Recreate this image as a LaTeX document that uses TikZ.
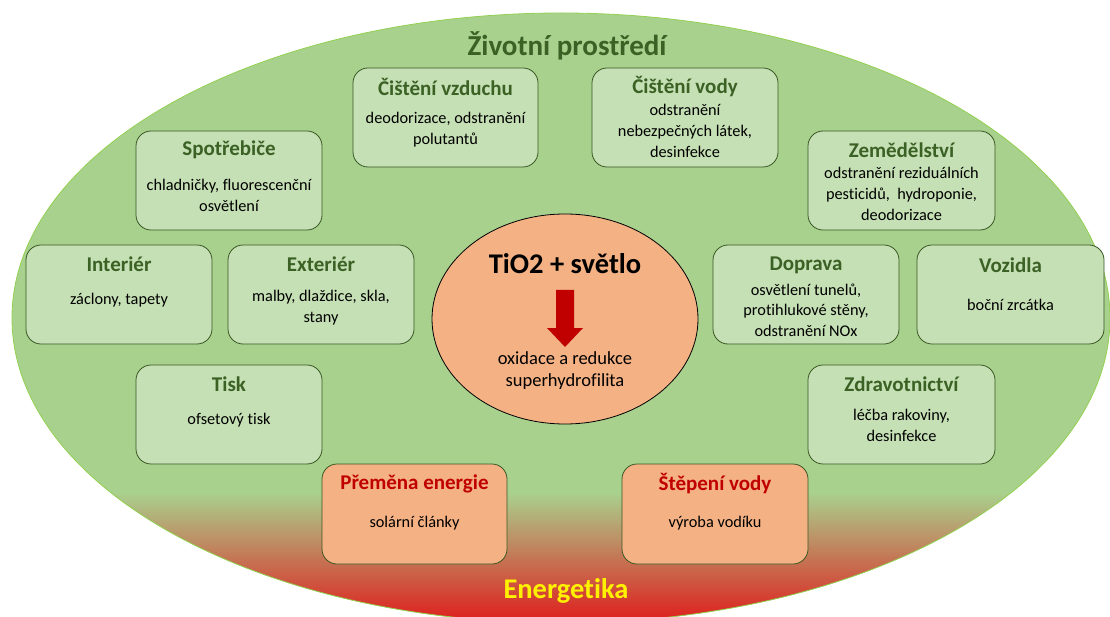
\documentclass[tikz,border=0pt]{standalone}
\usepackage{fontspec}
\setmainfont{Carlito}[Ligatures=NoCommon]
\usetikzlibrary{shapes.geometric}

\definecolor{leaf}{HTML}{A9D18E}
\definecolor{leafedge}{HTML}{92D050}
\definecolor{boxfill}{HTML}{C5E0B4}
\definecolor{boxedge}{HTML}{385723}
\definecolor{titlegreen}{HTML}{3B6125}
\definecolor{peach}{HTML}{F4B183}
\definecolor{darkred}{HTML}{C00000}
\definecolor{hotred}{HTML}{E01B1B}

\tikzset{
  area/.style={draw=boxedge, line width=0.8pt, fill=boxfill, rounded corners=15pt, inner sep=0pt},
  energybox/.style={area, fill=peach},
  boxtitle/.style={font=\fontsize{21}{24}\selectfont\bfseries, text=titlegreen, inner sep=0pt},
  energytitle/.style={font=\fontsize{21}{24}\selectfont\bfseries, text=darkred, inner sep=0pt},
  boxtext/.style={font=\fontsize{16.3}{20.7}\selectfont, align=center, inner sep=0pt},
}

\begin{document}
\begin{tikzpicture}[x=1pt, y=-1pt]
\useasboundingbox (0,0) rectangle (1110,617);

% outer field with the energy band fading into red at the bottom
\begin{scope}
  \clip (561,318) ellipse [x radius=549, y radius=305];
  \fill[leaf] (0,0) rectangle (1120,630);
  \shade[top color=leaf, bottom color=hotred] (0,492) rectangle (1120,624);
\end{scope}
\draw[leafedge, line width=0.8pt] (561,318) ellipse [x radius=549, y radius=305];

\node[font=\fontsize{29}{34}\selectfont\bfseries, text=titlegreen, inner sep=0pt] (env) at (567,46) {Životní prostředí};
\node[font=\fontsize{28.5}{34}\selectfont\bfseries, text=yellow, inner sep=0pt] (energy) at (566,591) {Energetika};

% application boxes
\node[area, minimum width=185pt, minimum height=99pt] (air) at (445.5,117.5) {};
\node[boxtitle] (air-t) at (445.5,87) {Čištění vzduchu};
\node[boxtext] (air-b) at (445.5,129.5) {deodorizace, odstranění\\polutantů};

\node[area, minimum width=186pt, minimum height=99pt] (water) at (685,117.5) {};
\node[boxtitle] (water-t) at (685,87) {Čištění vody};
\node[boxtext] (water-b) at (685,131) {odstranění\\nebezpečných látek,\\desinfekce};

\node[area, minimum width=186pt, minimum height=99pt] (appl) at (229,180.5) {};
\node[boxtitle] (appl-t) at (229,150) {Spotřebiče};
\node[boxtext] (appl-b) at (229,195.5) {chladničky, fluorescenční\\osvětlení};

\node[area, minimum width=187pt, minimum height=99pt] (agri) at (901.5,180.5) {};
\node[boxtitle] (agri-t) at (901.5,150) {Zemědělství};
\node[boxtext] (agri-b) at (901.5,194) {odstranění reziduálních\\pesticidů,\ \ hydroponie,\\deodorizace};

\node[area, minimum width=186pt, minimum height=99pt] (inter) at (119,294.5) {};
\node[boxtitle] (inter-t) at (119,264) {Interiér};
\node[boxtext] (inter-b) at (119,300) {záclony, tapety};

\node[area, minimum width=186pt, minimum height=99pt] (exter) at (321,294.5) {};
\node[boxtitle] (exter-t) at (321,264) {Exteriér};
\node[boxtext] (exter-b) at (321,307.5) {malby, dlaždice, skla,\\stany};

\node[area, minimum width=186pt, minimum height=99pt] (trans) at (806,294.5) {};
\node[boxtitle] (trans-t) at (806,265) {Doprava};
\node[boxtext] (trans-b) at (806,310) {osvětlení tunelů,\\protihlukové stěny,\\odstranění NOx};

\node[area, minimum width=187pt, minimum height=99pt] (cars) at (1010.5,294.5) {};
\node[boxtitle] (cars-t) at (1010.5,265) {Vozidla};
\node[boxtext] (cars-b) at (1010.5,305) {boční zrcátka};

\node[area, minimum width=186pt, minimum height=99pt] (print) at (229,414.5) {};
\node[boxtitle] (print-t) at (229,384) {Tisk};
\node[boxtext] (print-b) at (229,420) {ofsetový tisk};

\node[area, minimum width=187pt, minimum height=99pt] (health) at (901.5,414.5) {};
\node[boxtitle] (health-t) at (901.5,384) {Zdravotnictví};
\node[boxtext] (health-b) at (901.5,425.5) {léčba rakoviny,\\desinfekce};

\node[energybox, minimum width=185pt, minimum height=100pt] (conv) at (414.5,514) {};
\node[energytitle] (conv-t) at (414.5,484) {Přeměna energie};
\node[boxtext] (conv-b) at (414.5,523) {solární články};

\node[energybox, minimum width=186pt, minimum height=100pt] (split) at (715,514) {};
\node[energytitle] (split-t) at (715,484) {Štěpení vody};
\node[boxtext] (split-b) at (715,523) {výroba vodíku};

% photocatalysis core
\node[ellipse, draw=black, line width=0.8pt, fill=peach, minimum width=266pt, minimum height=210pt, inner sep=0pt] (core) at (565,319) {};
\node[font=\fontsize{28.5}{34}\selectfont\bfseries, inner sep=0pt] (core-t) at (565,264) {TiO2 + světlo};
\fill[darkred] (556,290) -- (574,290) -- (574,328) -- (583,328) -- (565,347) -- (547,328) -- (556,328) -- cycle;
\node[boxtext, font=\fontsize{18.5}{22}\selectfont] (core-b) at (565,371) {oxidace a redukce\\superhydrofilita};
\end{tikzpicture}
\end{document}
